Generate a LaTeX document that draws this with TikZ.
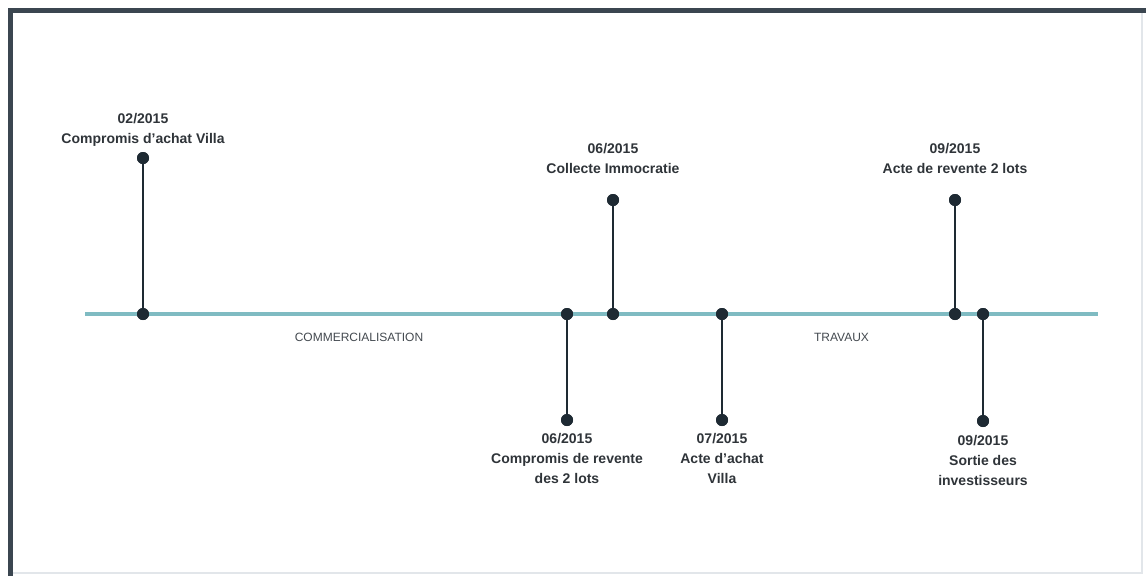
\documentclass[tikz,border=0pt]{standalone}
\usepackage{fontspec}
\setmainfont{Liberation Sans}
\definecolor{framedark}{HTML}{3B4650}
\definecolor{framelight}{HTML}{E2E6EA}
\definecolor{teal}{HTML}{7FBBC2}
\definecolor{dotcol}{HTML}{1E2A33}
\definecolor{txtcol}{HTML}{2F3439}
\definecolor{phasecol}{HTML}{444A50}
\tikzset{
  dotnode/.style={circle,fill=dotcol,inner sep=0pt,minimum size=12pt},
  stem/.style={draw=dotcol,line width=2pt},
  axis/.style={draw=teal,line width=3.5pt},
  datelabel/.style={inner sep=0pt,align=center,text=txtcol,
    font=\fontsize{14}{20}\selectfont\bfseries,anchor=north},
  phaselabel/.style={inner sep=0pt,text=phasecol,
    font=\fontsize{12}{14}\selectfont,anchor=base}
}
\begin{document}
\begin{tikzpicture}[x=1pt,y=-1pt]
\useasboundingbox (0,0) rectangle (1146,576);
\fill[white] (0,0) rectangle (1146,576);
% frame
\draw[framelight,line width=2pt] (1142,12) -- (1142,573) -- (12,573);
\draw[framedark,line width=4.5pt] (1146,10.5) -- (10.5,10.5) -- (10.5,576);
% axis
\coordinate (axstart) at (85,314);
\coordinate (axend) at (1098,314);
\draw[axis] (axstart) -- (axend);
% dots on axis
\node[dotnode] (a1) at (143,314) {};
\node[dotnode] (a2) at (567,314) {};
\node[dotnode] (a3) at (613,314) {};
\node[dotnode] (a4) at (722,314) {};
\node[dotnode] (a5) at (955,314) {};
\node[dotnode] (a6) at (983,314) {};
% end dots
\node[dotnode] (e1) at (143,158) {};
\node[dotnode] (e2) at (567,420) {};
\node[dotnode] (e3) at (613,200) {};
\node[dotnode] (e4) at (722,420) {};
\node[dotnode] (e5) at (955,200) {};
\node[dotnode] (e6) at (983,421) {};
% stems
\draw[stem] (a1.center) -- (e1.center);
\draw[stem] (a2.center) -- (e2.center);
\draw[stem] (a3.center) -- (e3.center);
\draw[stem] (a4.center) -- (e4.center);
\draw[stem] (a5.center) -- (e5.center);
\draw[stem] (a6.center) -- (e6.center);
\foreach \n in {a1,a2,a3,a4,a5,a6,e1,e2,e3,e4,e5,e6}{\node[dotnode] at (\n) {};}
% labels
\node[datelabel] (l1) at (143,113) {02/2015\\Compromis d’achat Villa};
\node[datelabel] (l3) at (613,143) {06/2015\\Collecte Immocratie};
\node[datelabel] (l5) at (955,143) {09/2015\\Acte de revente 2 lots};
\node[datelabel] (l2) at (567,433) {06/2015\\Compromis de revente\\des 2 lots};
\node[datelabel] (l4) at (722,433) {07/2015\\Acte d’achat\\Villa};
\node[datelabel] (l6) at (983,435) {09/2015\\Sortie des\\investisseurs};
% phases
\node[phaselabel] (p1) at (359,341.5) {COMMERCIALISATION};
\node[phaselabel] (p2) at (841.5,341.5) {TRAVAUX};
\end{tikzpicture}
\end{document}
